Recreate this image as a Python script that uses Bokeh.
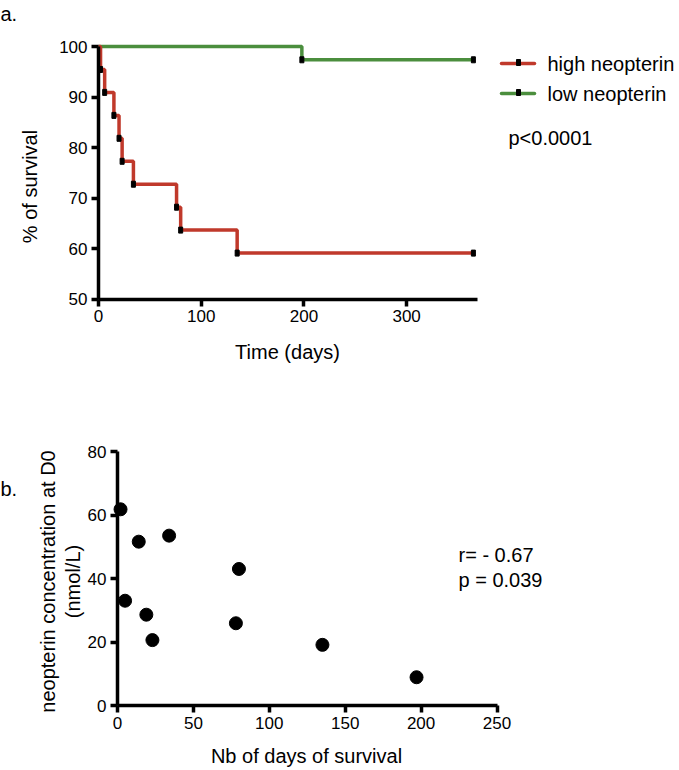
import numpy as np
from bokeh.plotting import figure
from bokeh.models import Label, FixedTicker, Range1d
from bokeh.layouts import column
from bokeh.embed import file_html
from bokeh.resources import INLINE

# ---------------- data ----------------
# Panel a: Kaplan-Meier survival (%)
high_times = [0, 2, 6, 15, 20, 23, 34, 76, 80, 135, 365]
high_surv = [100, 95.45, 90.91, 86.36, 81.82, 77.27, 72.73, 68.18, 63.64, 59.09, 59.09]
high_cens_times = [2, 6, 15, 20, 23, 34, 76, 80, 135, 365]
high_cens_surv = [95.45, 90.91, 86.36, 81.82, 77.27, 72.73, 68.18, 63.64, 59.09, 59.09]
low_times = [0, 198, 365]
low_surv = [100, 97.37, 97.37]
low_cens_times = [198, 365]
low_cens_surv = [97.37, 97.37]
series_names = ["high neopterin", "low neopterin"]
a_xticks = [0, 100, 200, 300]
a_yticks = [50, 60, 70, 80, 90, 100]
a_pvalue = "p<0.0001"

# Panel b: neopterin at D0 vs days of survival
days = [2, 5, 14, 19, 23, 34, 78, 80, 135, 197]
neopterin = [61.8, 33.0, 51.6, 28.6, 20.6, 53.5, 25.9, 43.0, 19.1, 8.9]
b_xticks = [0, 50, 100, 150, 200, 250]
b_yticks = [0, 20, 40, 60, 80]
b_stats = ["r= - 0.67", "p = 0.039"]

# ---------------- style ----------------
FONT = "Liberation Sans"
RED = "#C0392B"
GREEN = "#4B8E3D"
W = 679


def style(p, xt, yt, xb, yb, xfix, yfix):
    p.xaxis.ticker = FixedTicker(ticks=xt)
    p.yaxis.ticker = FixedTicker(ticks=yt)
    p.xaxis.bounds = xb
    p.yaxis.bounds = yb
    p.xaxis.fixed_location = xfix
    p.yaxis.fixed_location = yfix
    for ax in p.axis:
        ax.axis_line_width = 3.5
        ax.axis_line_color = "black"
        ax.major_tick_line_width = 3.5
        ax.major_tick_line_color = "black"
        ax.major_tick_out = 7
        ax.major_tick_in = 0
        ax.minor_tick_line_color = None
        ax.major_label_text_font = FONT
        ax.major_label_text_font_size = "17px"
        ax.major_label_text_color = "black"
        ax.major_label_standoff = 4
    p.grid.visible = False
    p.outline_line_color = None
    p.background_fill_color = "white"
    p.border_fill_color = "white"


def lab(p, x, y, text, size="20px", align="left", angle=0.0):
    p.add_layout(Label(x=x, y=y, text=text, text_font=FONT, text_font_size=size,
                       text_color="black", text_align=align, text_baseline="middle",
                       angle=angle))


# ---------------- panel a ----------------
HA = 420
AX0, AXS = 98.0, 1.0271          # page x of day 0, px per day
AY50, AYS = 298.5, 5.05          # page y of 50 %, px per %


def xa(px):
    return (px - AX0) / AXS


def ya(py):
    return 50 + (AY50 - py) / AYS


pa = figure(width=W, height=HA, x_range=Range1d(xa(0), xa(W)), y_range=Range1d(ya(HA), ya(0)),
            output_backend="svg", toolbar_location=None,
            min_border_left=0, min_border_right=0, min_border_top=0, min_border_bottom=0)
style(pa, a_xticks, a_yticks, (0, 369), (50, 100), 50, 0)

pa.step(low_times, low_surv, mode="after", line_color=GREEN, line_width=3.5)
pa.step(high_times, high_surv, mode="after", line_color=RED, line_width=3.5)
pa.rect(x=low_cens_times, y=low_cens_surv, width=4, height=6, width_units="screen",
        height_units="screen", color="black")
pa.rect(x=high_cens_times, y=high_cens_surv, width=4, height=6, width_units="screen",
        height_units="screen", color="black")

# legend
for col, py, name in [(RED, 63, series_names[0]), (GREEN, 93, series_names[1])]:
    pa.segment(x0=[xa(501)], y0=[ya(py)], x1=[xa(534)], y1=[ya(py)], line_color=col,
               line_width=3.5, line_cap="round")
    pa.rect(x=[xa(518)], y=[ya(py - 1)], width=4, height=6, width_units="screen",
            height_units="screen", color="black")
    lab(pa, xa(547), ya(py), name)

lab(pa, xa(508), ya(137), a_pvalue)
lab(pa, xa(287), ya(351), "Time (days)", align="center")
lab(pa, xa(29), ya(186), "% of survival", align="center", angle=np.pi / 2)
lab(pa, xa(0), ya(13), "a.")

# ---------------- panel b ----------------
HB = 350
TOPB = HA                        # page y of panel b's top edge
BX0, BXS = 117.0, 1.518          # page x of day 0, px per day
BY0, BYS = 705.0, 3.175          # page y of 0 nmol/L, px per nmol/L


def xb(px):
    return (px - BX0) / BXS


def yb(py):
    return (BY0 - py) / BYS


pb = figure(width=W, height=HB, x_range=Range1d(xb(0), xb(W)),
            y_range=Range1d(yb(TOPB + HB), yb(TOPB)),
            output_backend="svg", toolbar_location=None,
            min_border_left=0, min_border_right=0, min_border_top=0, min_border_bottom=0)
style(pb, b_xticks, b_yticks, (0, 250), (0, 80), 0, 0)

pb.scatter(days, neopterin, size=13, color="black")

lab(pb, xb(458), yb(554), b_stats[0])
lab(pb, xb(458), yb(579), b_stats[1])
lab(pb, xb(306), yb(755), "Nb of days of survival", align="center")
lab(pb, xb(47), yb(581), "neopterin concentration at D0", align="center", angle=np.pi / 2)
lab(pb, xb(72), yb(581), "(nmol/L)", align="center", angle=np.pi / 2)
lab(pb, xb(0), yb(488), "b.")

layout = column(pa, pb, spacing=0)
with open("out.html", "w") as f:
    f.write(file_html(layout, INLINE))
